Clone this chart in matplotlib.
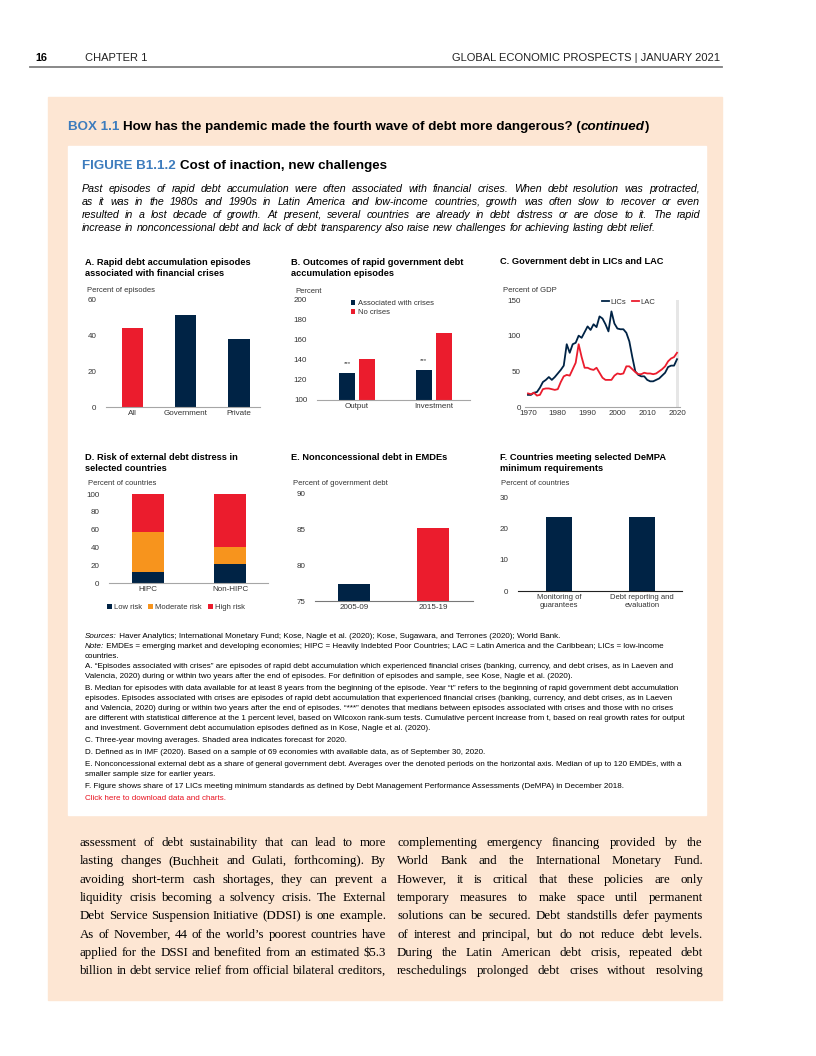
import matplotlib
matplotlib.use('Agg')
import matplotlib.pyplot as plt
from matplotlib.patches import Rectangle
from matplotlib.lines import Line2D

W, H = 816, 1056
NAVY = '#002345'
RED = '#EB1C2D'
ORANGE = '#F7941D'
BLUE = '#3D7CBD'
PEACH = '#FDE6D3'
TICK = '#333333'

# ---- data ----
a_labels = ['All', 'Government', 'Private']
a_values = [44, 51, 38]

b_groups = ['Output', 'Investment']
b_crises = [127, 130]
b_no_crises = [141, 166]

c_years = list(range(1970, 2021))
c_lics = [17, 17, 20, 21, 27, 35, 38, 42, 38, 42,
          47, 52, 58, 88, 76, 88, 90, 100, 97, 105,
          113, 108, 116, 112, 127, 124, 116, 106, 134, 117,
          110, 109, 109, 104, 92, 70, 50, 45, 43, 43,
          38, 36, 36, 38, 40, 44, 48, 56, 58, 58, 67]
c_lac = [19, 18, 20, 16, 17, 25, 26, 26, 25, 24,
         25, 35, 43, 45, 44, 53, 62, 88, 70, 55,
         55, 53, 52, 55, 48, 41, 38, 38, 38, 44,
         47, 46, 47, 57, 57, 53, 49, 46, 46, 48,
         47, 47, 46, 47, 50, 53, 57, 64, 68, 70, 76]

d_groups = ['HIPC', 'Non-HIPC']
d_low = [12, 21]
d_moderate = [45, 20]
d_high = [43, 59]

e_periods = ['2005-09', '2015-19']
e_values = [77.4, 85.1]

f_labels = ['Monitoring of\nguarantees', 'Debt reporting and\nevaluation']
f_values = [23.5, 23.5]

caption = [
    "Past episodes of rapid debt accumulation were often associated with financial crises. When debt resolution was protracted,",
    "as it was in the 1980s and 1990s in Latin America and low-income countries, growth was often slow to recover or even",
    "resulted in a lost decade of growth. At present, several countries are already in debt distress or are close to it. The rapid",
    "increase in nonconcessional debt and lack of debt transparency also raise new challenges for achieving lasting debt relief.",
]

notes = [
    ("Sources:", " Haver Analytics; International Monetary Fund; Kose, Nagle et al. (2020); Kose, Sugawara, and Terrones (2020); World Bank."),
    ("Note:", " EMDEs = emerging market and developing economies; HIPC = Heavily Indebted Poor Countries; LAC = Latin America and the Caribbean; LICs = low-income"),
    ("", "countries."),
    ("", "A. \u201cEpisodes associated with crises\u201d are episodes of rapid debt accumulation which experienced financial crises (banking, currency, and debt crises, as in Laeven and"),
    ("", "Valencia, 2020) during or within two years after the end of episodes. For definition of episodes and sample, see Kose, Nagle et al. (2020)."),
    ("", "B. Median for episodes with data available for at least 8 years from the beginning of the episode. Year \u201ct\u201d refers to the beginning of rapid government debt accumulation"),
    ("", "episodes. Episodes associated with crises are episodes of rapid debt accumulation that experienced financial crises (banking, currency, and debt crises, as in Laeven"),
    ("", "and Valencia, 2020) during or within two years after the end of episodes. \u201c***\u201d denotes that medians between episodes associated with crises and those with no crises"),
    ("", "are different with statistical difference at the 1 percent level, based on Wilcoxon rank-sum tests. Cumulative percent increase from t, based on real growth rates for output"),
    ("", "and investment. Government debt accumulation episodes defined as in Kose, Nagle et al. (2020)."),
    ("", "C. Three-year moving averages. Shaded area indicates forecast for 2020."),
    ("", "D. Defined as in IMF (2020). Based on a sample of 69 economies with available data, as of September 30, 2020."),
    ("", "E. Nonconcessional external debt as a share of general government debt. Averages over the denoted periods on the horizontal axis. Median of up to 120 EMDEs, with a"),
    ("", "smaller sample size for earlier years."),
    ("", "F. Figure shows share of 17 LICs meeting minimum standards as defined by Debt Management Performance Assessments (DeMPA) in December 2018."),
]
notes_y = [636, 646, 656, 667, 677, 689, 699, 708, 718, 728, 740, 752, 764, 774, 787]

body_left = [
    "assessment of debt sustainability that can lead to more",
    "lasting changes (Buchheit and Gulati, forthcoming). By",
    "avoiding short-term cash shortages, they can prevent a",
    "liquidity crisis becoming a solvency crisis. The External",
    "Debt Service Suspension Initiative (DDSI) is one example.",
    "As of November, 44 of the world\u2019s poorest countries have",
    "applied for the DSSI and benefited from an estimated $5.3",
    "billion in debt service relief from official bilateral creditors,",
]
body_right = [
    "complementing emergency financing provided by the",
    "World Bank and the International Monetary Fund.",
    "However, it is critical that these policies are only",
    "temporary measures to make space until permanent",
    "solutions can be secured. Debt standstills defer payments",
    "of interest and principal, but do not reduce debt levels.",
    "During the Latin American debt crisis, repeated debt",
    "reschedulings prolonged debt crises without resolving",
]

plt.rcParams['font.family'] = ['Liberation Sans', 'DejaVu Sans']
fig = plt.figure(figsize=(W / 100, H / 100), dpi=100)
renderer = fig.canvas.get_renderer()


def fx(x):
    return x / W


def fy(y):
    return 1 - y / H


def put(x, y, s, **kw):
    kw.setdefault('va', 'center')
    return fig.text(fx(x), fy(y), s, **kw)


def width_px(t):
    return t.get_window_extent(renderer).width


def measure(s, **kw):
    t = put(100, 100, s, **kw)
    w = width_px(t)
    t.remove()
    return w


def run(x, y, parts):
    # several styles on one line, placed one after the other
    for s, kw in parts:
        t = put(x, y, s, **kw)
        x += width_px(t)
    return x


def justify(line, x0, x1, y, last=False, **kw):
    # y is the baseline (whole pixels, so the words line up); one text per word
    y = round(y)
    words = line.split(' ')
    tx = [put(x0, y, w, va='baseline', **kw) for w in words]
    ws = [width_px(t) for t in tx]
    if last:
        gap = measure('a a', **kw) - measure('aa', **kw)
    else:
        gap = (x1 - x0 - sum(ws)) / max(len(words) - 1, 1)
    x = x0
    for t, w in zip(tx, ws):
        t.set_x(fx(x))
        x += w + gap


def ax_box(x0, y0, x1, y1):
    ax = fig.add_axes([fx(x0), fy(y1), (x1 - x0) / W, (y1 - y0) / H])
    for s in ['top', 'right', 'left']:
        ax.spines[s].set_visible(False)
    ax.spines['bottom'].set_color('#a6a6a6')
    ax.spines['bottom'].set_linewidth(0.8)
    ax.set_facecolor('none')
    ax.tick_params(length=0, labelsize=5.8, colors=TICK)
    ax.tick_params(axis='y', pad=7)
    ax.tick_params(axis='x', pad=2)
    return ax


# ---- page background ----
fig.patches.append(Rectangle((fx(48), fy(1000)), (722 - 48) / W, (1000 - 97) / H,
                             transform=fig.transFigure, color=PEACH, zorder=-10))
fig.patches.append(Rectangle((fx(68), fy(815)), (706 - 68) / W, (815 - 146) / H,
                             transform=fig.transFigure, color='white', zorder=-9))
fig.add_artist(Line2D([fx(30), fx(722)], [fy(67), fy(67)], color='#7f7f7f', lw=1.3))

put(35, 58, '16', fontsize=7.8, fontweight='bold')
put(85, 58, 'CHAPTER 1', fontsize=8, color='#222222')
put(720, 58, 'GLOBAL ECONOMIC PROSPECTS | JANUARY 2021', fontsize=8, ha='right', color='#222222')

hkw = dict(fontsize=9.6, fontweight='bold')
run(68, 127, [('BOX 1.1 ', dict(hkw, color=BLUE)),
              ('How has the pandemic made the fourth wave of debt more dangerous? (', hkw),
              ('continued', dict(hkw, style='italic')),
              (')', hkw)])
run(82, 166, [('FIGURE B1.1.2 ', dict(hkw, color=BLUE)),
              ('Cost of inaction, new challenges', hkw)])

for i, line in enumerate(caption):
    y = 192 + 13 * i
    justify(line, 82, 700, y, last=(i == len(caption) - 1), fontsize=7.7, style='italic')

# ---- panel titles ----
tkw = dict(fontsize=6.7, fontweight='bold', linespacing=1.25)
put(85, 268, 'A. Rapid debt accumulation episodes\nassociated with financial crises', **tkw)
put(291, 268, 'B. Outcomes of rapid government debt\naccumulation episodes', **tkw)
put(500, 262, 'C. Government debt in LICs and LAC', **tkw)
put(85, 463, 'D. Risk of external debt distress in\nselected countries', **tkw)
put(291, 457, 'E. Nonconcessional debt in EMDEs', **tkw)
put(500, 463, 'F. Countries meeting selected DeMPA\nminimum requirements', **tkw)

ukw = dict(fontsize=5.5, color=TICK)

# ---- A ----
ax = ax_box(106, 299, 260, 407)
ax.bar(range(3), a_values, width=0.4, color=[RED, NAVY, NAVY])
ax.set_xlim(-0.49, 2.39)
ax.set_ylim(0, 60)
ax.set_yticks([0, 20, 40, 60])
ax.set_xticks(range(3), a_labels)
put(87, 290, 'Percent of episodes', **ukw)

# ---- B ----
ax = ax_box(317, 299, 470, 400)
xb = range(len(b_groups))
ax.bar([i - 0.13 for i in xb], [v - 100 for v in b_crises], bottom=100, width=0.21,
       color=NAVY, label='Associated with crises')
ax.bar([i + 0.13 for i in xb], [v - 100 for v in b_no_crises], bottom=100, width=0.21,
       color=RED, label='No crises')
for i, v in enumerate(b_crises):
    ax.text(i - 0.13, v + 9, '***', ha='center', va='center', fontsize=4.5, color=TICK)
ax.set_xlim(-0.52, 1.47)
ax.set_ylim(100, 200)
ax.set_yticks(range(100, 201, 20))
ax.set_xticks(list(xb), b_groups)
ax.legend(loc='upper left', bbox_to_anchor=(0.2, 1.02), frameon=False, fontsize=5.5,
          handlelength=0.6, handleheight=0.6, handletextpad=0.3, labelspacing=0.25,
          borderaxespad=0, labelcolor=TICK)
put(295, 291, 'Percent', **ukw)

# ---- C ----
ax = ax_box(525, 300, 680, 407)
ax.axvspan(2019.5, 2020.6, color='#e6e6e6', lw=0)
ax.plot(c_years, c_lics, color=NAVY, lw=1.3, label='LICs')
ax.plot(c_years, c_lac, color=RED, lw=1.3, label='LAC')
ax.set_xlim(1969, 2021)
ax.set_ylim(0, 150)
ax.set_yticks([0, 50, 100, 150])
ax.set_xticks(range(1970, 2021, 10))
ax.tick_params(axis='y', pad=3)
ax.legend(loc='upper right', bbox_to_anchor=(0.86, 1.04), ncol=2, frameon=False, fontsize=5.5,
          handlelength=0.9, handletextpad=0.2, columnspacing=0.8, borderaxespad=0,
          labelcolor=TICK)
put(503, 290, 'Percent of GDP', **ukw)

# ---- D ----
ax = ax_box(109, 494, 268, 583)
xd = range(len(d_groups))
mid = [a + b for a, b in zip(d_low, d_moderate)]
ax.bar(xd, d_low, width=0.39, color=NAVY, label='Low risk')
ax.bar(xd, d_moderate, bottom=d_low, width=0.39, color=ORANGE, label='Moderate risk')
ax.bar(xd, d_high, bottom=mid, width=0.39, color=RED, label='High risk')
ax.set_xlim(-0.48, 1.46)
ax.set_ylim(0, 100)
ax.set_yticks(range(0, 101, 20))
ax.set_xticks(list(xd), d_groups)
ax.legend(loc='center left', bbox_to_anchor=(-0.03, -0.28), ncol=3, frameon=False, fontsize=5.5,
          handlelength=0.6, handleheight=0.6, handletextpad=0.3, columnspacing=0.8,
          borderaxespad=0, labelcolor=TICK)
put(88, 484, 'Percent of countries', **ukw)

# ---- E ----
ax = ax_box(315, 493, 473, 601)
ax.bar(range(2), [v - 75 for v in e_values], bottom=75, width=0.4, color=[NAVY, RED])
ax.set_xlim(-0.49, 1.5)
ax.set_ylim(75, 90)
ax.set_yticks([75, 80, 85, 90])
ax.set_xticks(range(2), e_periods)
ax.spines['bottom'].set_color('#777777')
put(293, 484, 'Percent of government debt', **ukw)

# ---- F ----
ax = ax_box(518, 497, 682, 591)
ax.bar(range(2), f_values, width=0.31, color=NAVY)
ax.set_xlim(-0.49, 1.48)
ax.set_ylim(0, 30)
ax.set_yticks([0, 10, 20, 30])
ax.set_xticks(range(2), f_labels)
ax.tick_params(axis='x', labelsize=5.5)
ax.spines['bottom'].set_color('#222222')
put(501, 484, 'Percent of countries', **ukw)

# ---- notes ----
nfs = 5.75
for (head, rest), y in zip(notes, notes_y):
    parts = []
    if head:
        parts.append((head, dict(fontsize=nfs, style='italic')))
    parts.append((rest, dict(fontsize=nfs)))
    run(85, y, parts)
put(85, 798, 'Click here to download data and charts.', fontsize=nfs, color='#E8101E')

# ---- body text ----
bkw = dict(fontsize=9.3, family=['Liberation Serif', 'DejaVu Serif'])
for i, (l, r) in enumerate(zip(body_left, body_right)):
    y = 846 + 18.3 * i
    justify(l, 80, 386, y, **bkw)
    justify(r, 397, 703, y, **bkw)

fig.savefig('out.png', dpi=100)
